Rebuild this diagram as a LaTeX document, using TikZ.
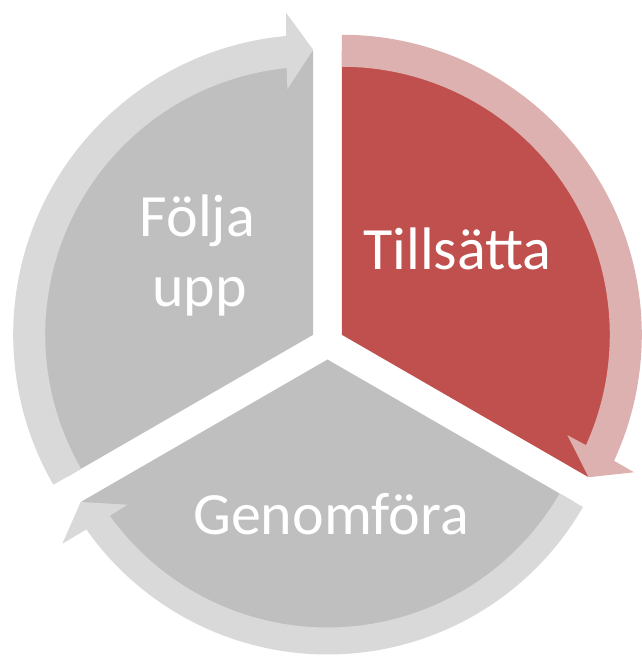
\documentclass[tikz,border=0pt]{standalone}
\usepackage{fontspec}
\setmainfont{Carlito}
\usetikzlibrary{calc}
\definecolor{secred}{HTML}{C0504D}
\definecolor{bandred}{HTML}{DDB1B0}
\definecolor{secgray}{HTML}{BFBFBF}
\definecolor{bandgray}{HTML}{D9D9D9}
% #1 apex, #2 start angle, #3 tip angle, #4 outer radius, #5 sector colour, #6 band colour
\newcommand\cycseg[6]{%
  \fill[#5] (#1) -- ($(#1)+(#2:284)$) arc[start angle=#2, end angle=#3, radius=284] -- cycle;
  \fill[#6] ($(#1)+(#2:#4)$) arc[start angle=#2, end angle=#3+5.16, radius=#4]
    -- ($(#1)+(#3+4.8:323)$) -- ($(#1)+(#3:285)$) -- ($(#1)+(#3+6:247)$)
    -- ($(#1)+(#3+5.67:268)$) arc[start angle=#3+5.67, end angle=#2, radius=268] -- cycle;
}
\tikzset{lbl/.style={text=white, inner sep=0pt, font=\fontsize{60}{72}\selectfont}}
\begin{document}
\begin{tikzpicture}[x=1pt,y=1pt]
\useasboundingbox (0,0) rectangle (641,657);
\coordinate (pr) at (341.8,322.25);
\coordinate (pf) at (313.2,322.25);
\coordinate (pg) at (327.5,297.5);
\cycseg{pr}{90}{-30}{300}{secred}{bandred}
\cycseg{pg}{330}{210}{295}{secgray}{bandgray}
\cycseg{pf}{210}{90}{300}{secgray}{bandgray}
\node[lbl, anchor=base] (till) at (457.5,387) {Tillsätta};
\node[lbl, anchor=base] (genom) at (331,122) {Genomföra};
\node[lbl, anchor=base] (folja) at (197.5,420) {Följa};
\node[lbl, anchor=base] (upp) at (199.5,350) {upp};
\end{tikzpicture}
\end{document}
